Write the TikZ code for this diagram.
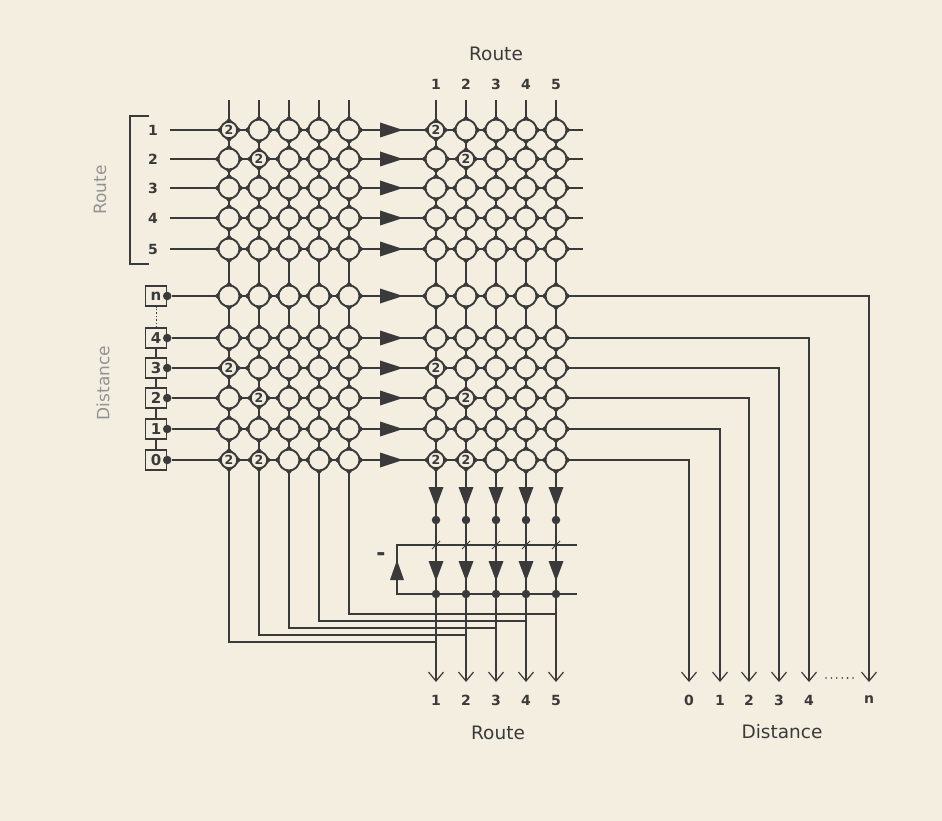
\documentclass[tikz,border=0pt]{standalone}
\usepackage{fontspec}
\setmainfont{DejaVu Sans}
\usepackage{tikz}
\usetikzlibrary{shapes}
\usetikzlibrary{arrows.meta}
\definecolor{paper}{HTML}{F3EEE0}
\definecolor{ink}{HTML}{3A3A3A}
\tikzset{
  cell/.style={circle,draw=ink,fill=paper,line width=1.9pt,minimum size=21pt,inner sep=0pt},
  twocell/.style={cell,minimum size=16.5pt,font=\bfseries\fontsize{12.5}{12.5}\selectfont,text=ink},
  num/.style={font=\bfseries\fontsize{14}{14}\selectfont,text=ink},
  lbl/.style={font=\fontsize{18.5}{18.5}\selectfont,text=ink},
  sidelbl/.style={font=\fontsize{17}{17}\selectfont,text=ink!55,rotate=90},
  dbox/.style={draw=ink,line width=1.4pt,fill=paper,minimum width=21pt,minimum height=20pt,inner sep=0pt,font=\bfseries\fontsize{15}{15}\selectfont,text=ink},
  blob/.style={circle,fill=ink,inner sep=0pt,minimum size=8.5pt},
  wire/.style={draw=ink,line width=1.4pt},
  outwire/.style={wire,-{Straight Barb[length=9pt,width=15pt,line width=1.2pt]}}
}
\begin{document}
\begin{tikzpicture}[x=1pt,y=-1pt]
\fill[paper] (0,0) rectangle (942,821);
% side labels
\draw[wire] (149,116) -- (130,116) -- (130,264) -- (149,264);
\node[sidelbl] (rside) at (100,190) {Route};
\node[sidelbl] (dside) at (103,383) {Distance};
\node[lbl] (rtop) at (496,54) {Route};
\node[lbl] (rbot) at (498,733) {Route};
\node[lbl] (dbot) at (782,732) {Distance};

% columns
\foreach \c/\x in {1/229,2/259,3/289,4/319,5/349}{
  \pgfmathsetmacro\rx{\x+207}
  \pgfmathsetmacro\ty{649-7*\c}
  \coordinate (lt\c) at (\x,100);
  \coordinate (lj\c) at (\rx,\ty);
  \coordinate (rt\c) at (\rx,100);
  \coordinate (ro\c) at (\rx,682);
  \draw[wire] (lt\c) |- (lj\c);
  \draw[outwire] (rt\c) -- (ro\c);
  \node[num] (top\c) at (\rx,84) {\c};
  \node[num] (bot\c) at (\rx,700) {\c};
}

% route rows
\foreach \r/\y in {1/130,2/159,3/188,4/218,5/249}{
  \node[num] (rn\r) at (153,\y) {\r};
  \coordinate (ri\r) at (170,\y);
  \coordinate (re\r) at (583,\y);
  \draw[wire] (ri\r) -- (re\r);
}

% distance rows
\foreach \d/\y/\dx in {n/296/869,4/338/809,3/368/779,2/398/749,1/429/720,0/460/689}{
  \node[dbox] (box\d) at (156,\y) {\d\hspace{2pt}};
  \node[blob] (bd\d) at (box\d.east) {};
  \coordinate (do\d) at (\dx,682);
  \draw[outwire] (bd\d) -| (do\d);
  \node[num] (dl\d) at (\dx,700) {\d};
}
\draw[wire] (box0) -- (box1) (box1) -- (box2) (box2) -- (box3) (box3) -- (box4);
\draw[wire,dotted,line width=1pt] (box4) -- (boxn);
\foreach \i in {0,...,5}
  \fill[ink] (826+5.4*\i,678) circle (0.9pt);

% row drivers
\foreach \y in {130,159,188,218,249,296,338,368,398,429,460}
  \fill[ink] (380,\y-7.5) -- (403,\y) -- (380,\y+7.5) -- cycle;

% cells
\foreach \k/\y/\a/\b in {r1/130/1/0,r2/159/0/1,r3/188/0/0,r4/218/0/0,r5/249/0/0,
    dn/296/0/0,d4/338/0/0,d3/368/1/0,d2/398/0/1,d1/429/0/0,d0/460/1/1}{
  \foreach \c/\x in {1/229,2/259,3/289,4/319,5/349}{
    \foreach \g/\gx in {L/0,R/207}{
      \pgfmathtruncatemacro\istwo{(\c==1)*\a+(\c==2)*\b}
      \pgfmathsetmacro\cx{\x+\gx}
      \ifnum\istwo=1 \def\rad{8.2}\else \def\rad{10.5}\fi
      \foreach \ang in {0,90,180,270}
        \fill[ink,shift={(\cx,\y)},rotate=\ang] (\rad-1,-4.5) -- (\rad+4,0) -- (\rad-1,4.5) -- cycle;
      \ifnum\istwo=1
        \node[twocell] (\g-\k-\c) at (\cx,\y) {2};
      \else
        \node[cell] (\g-\k-\c) at (\cx,\y) {};
      \fi
    }
  }
}

% output stage
\coordinate (bu) at (397,545);
\coordinate (bl) at (397,594);
\coordinate (bue) at (577,545);
\coordinate (ble) at (577,594);
\draw[wire] (bue) -- (bu) -- (bl) -- (ble);
\fill[ink] (390,580) -- (404,580) -- (397,560) -- cycle;
\node[font=\bfseries\fontsize{22}{22}\selectfont,text=ink] (neg) at (381,557) {-};
\foreach \c in {1,...,5}{
  \pgfmathsetmacro\rx{206+30*\c+200}
  \fill[ink] (\rx-7.5,487) -- (\rx+7.5,487) -- (\rx,507) -- cycle;
  \node[blob] (ua\c) at (\rx,520) {};
  \draw[ink,line width=0.8pt] (\rx-4,549) -- (\rx+4,541);
  \fill[ink] (\rx-7.5,561) -- (\rx+7.5,561) -- (\rx,581) -- cycle;
  \node[blob] (lb\c) at (\rx,594) {};
}
\end{tikzpicture}
\end{document}
